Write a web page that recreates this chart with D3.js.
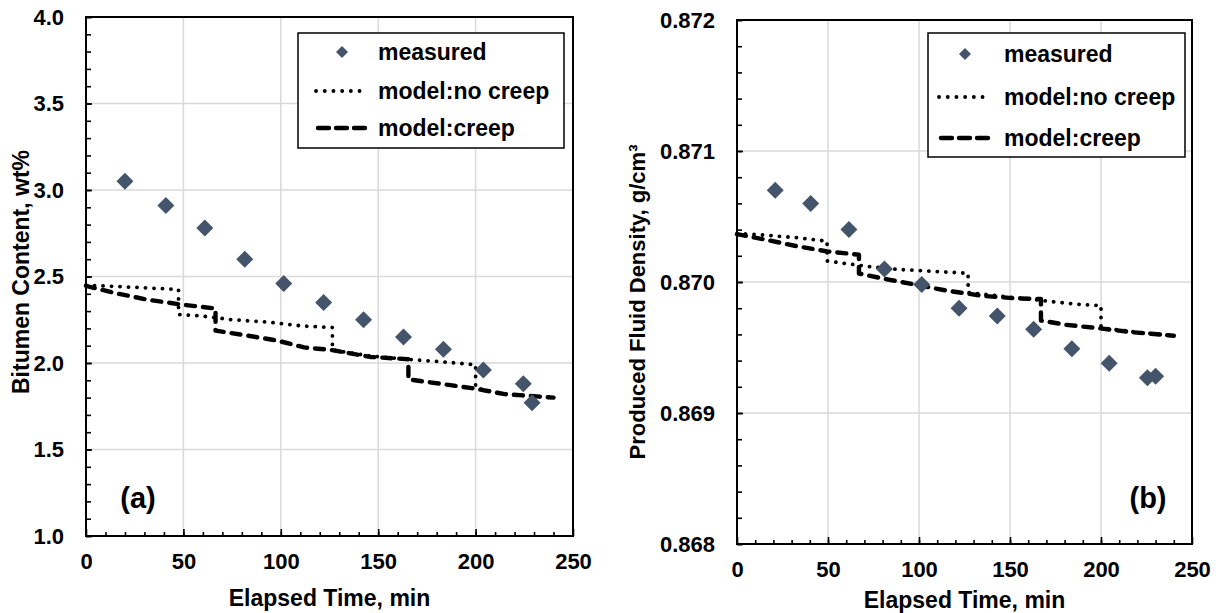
<!DOCTYPE html>
<html>
<head>
<meta charset="utf-8">
<script src="https://cdn.jsdelivr.net/npm/d3@7/dist/d3.min.js"></script>
<style>
  html, body { margin: 0; padding: 0; background: #fff; }
  svg { display: block; }
  text { font-family: "Liberation Sans", Arial, sans-serif; font-weight: bold; fill: #000; }
</style>
</head>
<body>
<svg id="chart" width="1225" height="613"></svg>
<script>
// ---- Panel (a): bitumen content ----
const timeA = [20, 41, 61, 81.5, 101.5, 122, 142.5, 163, 183.5, 204, 224.5, 229];
const bitumenMeasured = [3.05, 2.91, 2.78, 2.60, 2.46, 2.35, 2.25, 2.15, 2.08, 1.96, 1.88, 1.77];

const noCreepTimeA = [0, 20, 47.5, 47.5, 58, 66, 75, 83, 92, 100, 112, 126.5, 126.5, 146, 166, 185, 200, 200, 215, 240];
const noCreepA     = [2.45, 2.44, 2.425, 2.28, 2.273, 2.263, 2.25, 2.244, 2.238, 2.228, 2.213, 2.205, 2.075, 2.04, 2.02, 2.005, 1.99, 1.855, 1.82, 1.80];

const creepTimeA = [0, 15, 32, 49, 66.5, 66.5, 82, 98, 112, 126, 146, 165.5, 165.5, 182, 198, 215, 240];
const creepA     = [2.446, 2.404, 2.365, 2.338, 2.315, 2.187, 2.16, 2.13, 2.09, 2.075, 2.035, 2.022, 1.905, 1.88, 1.855, 1.82, 1.80];

// ---- Panel (b): produced fluid density ----
const timeB = [21, 40.5, 61.5, 81, 101.5, 122, 143, 163, 184, 204.5, 225.5, 230];
const densityMeasured = [0.87070, 0.87060, 0.87040, 0.87010, 0.86998, 0.86980, 0.86974, 0.86964, 0.86949, 0.86938, 0.86927, 0.86928];

const noCreepTimeB = [0, 15, 33, 49.5, 49.5, 58.5, 73, 88, 106, 122.5, 127, 127, 146, 167, 185, 200, 200, 220, 240];
const noCreepB     = [0.87037, 0.870358, 0.870338, 0.870312, 0.870161, 0.870143, 0.870117, 0.870096, 0.870083, 0.87007, 0.870066, 0.86992, 0.86989, 0.86986, 0.869832, 0.86982, 0.86965, 0.869616, 0.86959];

const creepTimeB = [0, 15, 33, 49.5, 67, 67, 79, 97, 115, 135, 153.5, 167, 167, 181, 199, 217.5, 240];
const creepB     = [0.870365, 0.870325, 0.870273, 0.870234, 0.870208, 0.870065, 0.87003, 0.869982, 0.869935, 0.869894, 0.869875, 0.86987, 0.869706, 0.869673, 0.869647, 0.869616, 0.86959];

// ---- Axis ticks and labels ----
const xTicks = [0, 50, 100, 150, 200, 250];
const yTicksA = [1.0, 1.5, 2.0, 2.5, 3.0, 3.5, 4.0];
const yTicksB = [0.868, 0.869, 0.870, 0.871, 0.872];
const legendLabels = ["measured", "model:no creep", "model:creep"];

const svg = d3.select("#chart");
const markerColor = "#44546a";

function diamondPath(r) {
  return `M0,${-r}L${r},0L0,${r}L${-r},0Z`;
}

function drawPanel(cfg) {
  const g = svg.append("g");
  const x = d3.scaleLinear().domain([0, 250]).range([cfg.left, cfg.right]);
  const y = d3.scaleLinear().domain(cfg.yDomain).range([cfg.bottom, cfg.top]);

  // grid lines
  g.append("g").selectAll("line.vg").data(xTicks.slice(1, -1)).join("line")
    .attr("x1", d => x(d)).attr("x2", d => x(d))
    .attr("y1", cfg.top).attr("y2", cfg.bottom)
    .attr("stroke", "#d9d9d9").attr("stroke-width", 1.5);
  g.append("g").selectAll("line.hg").data(cfg.yTicks.slice(1, -1)).join("line")
    .attr("x1", cfg.left).attr("x2", cfg.right)
    .attr("y1", d => y(d)).attr("y2", d => y(d))
    .attr("stroke", "#d9d9d9").attr("stroke-width", 1.5);

  // x axis: major and minor ticks pointing inward
  const xAxisMinor = d3.axisBottom(x).tickValues(d3.range(10, 250, 10)).tickSize(-4).tickFormat("");
  const gxm = g.append("g").attr("transform", `translate(0,${cfg.bottom})`).call(xAxisMinor);
  const xAxis = d3.axisBottom(x).tickValues(xTicks).tickSize(-7).tickPadding(17).tickFormat(d3.format("d"));
  const gx = g.append("g").attr("transform", `translate(0,${cfg.bottom})`).call(xAxis);

  // y axis
  const yMinor = d3.range(cfg.yDomain[0], cfg.yDomain[1] + cfg.minorStep / 2, cfg.minorStep);
  const yAxisMinor = d3.axisLeft(y).tickValues(yMinor).tickSize(-5).tickFormat("");
  const gym = g.append("g").attr("transform", `translate(${cfg.left},0)`).call(yAxisMinor);
  const yAxis = d3.axisLeft(y).tickValues(cfg.yTicks).tickSize(-6).tickPadding(22).tickFormat(d3.format(cfg.yFormat));
  const gy = g.append("g").attr("transform", `translate(${cfg.left},0)`).call(yAxis);

  [gxm, gx, gym, gy].forEach(a => {
    a.select(".domain").remove();
    a.selectAll(".tick line").attr("stroke", "#000").attr("stroke-width", 1.6);
    a.selectAll("text").attr("font-size", 22).attr("font-family", "Liberation Sans, Arial, sans-serif").attr("font-weight", "bold").attr("fill", "#000");
  });

  // frame
  g.append("rect")
    .attr("x", cfg.left).attr("y", cfg.top)
    .attr("width", cfg.right - cfg.left).attr("height", cfg.bottom - cfg.top)
    .attr("fill", "none").attr("stroke", "#000").attr("stroke-width", 2);

  // model lines
  const line = d3.line().x(d => x(d[0])).y(d => y(d[1]));
  g.append("path")
    .datum(d3.zip(cfg.noCreepT, cfg.noCreepV))
    .attr("d", line).attr("fill", "none").attr("stroke", "#000")
    .attr("stroke-width", 3.8).attr("stroke-linecap", "round").attr("stroke-linejoin", "round")
    .attr("stroke-dasharray", "0.1 8.4");
  g.append("path")
    .datum(d3.zip(cfg.creepT, cfg.creepV))
    .attr("d", line).attr("fill", "none").attr("stroke", "#000")
    .attr("stroke-width", 4.4).attr("stroke-linecap", "round").attr("stroke-linejoin", "round")
    .attr("stroke-dasharray", "9 8");

  // measured points
  g.append("g").selectAll("path").data(d3.zip(cfg.mT, cfg.mV)).join("path")
    .attr("transform", d => `translate(${x(d[0])},${y(d[1])})`)
    .attr("d", diamondPath(8.5)).attr("fill", markerColor);

  // axis titles
  g.append("text")
    .attr("x", (cfg.left + cfg.right) / 2).attr("y", cfg.xTitleY)
    .attr("text-anchor", "middle").attr("font-size", 23)
    .text("Elapsed Time, min");
  g.append("text")
    .attr("transform", `translate(${cfg.yTitleX},${cfg.yTitleCY}) rotate(-90)`)
    .attr("text-anchor", "middle").attr("font-size", cfg.yTitleSize)
    .text(cfg.yTitle);

  // panel tag
  g.append("text")
    .attr("x", cfg.tagX).attr("y", cfg.tagY)
    .attr("text-anchor", "middle").attr("font-size", 29)
    .text(cfg.tag);

  // legend
  const L = cfg.legend;
  const lg = g.append("g");
  lg.append("rect").attr("x", L.x).attr("y", L.y).attr("width", L.w).attr("height", L.h)
    .attr("fill", "#fff").attr("stroke", "#000").attr("stroke-width", 1.5);
  const rows = L.rows;
  lg.append("path").attr("transform", `translate(${L.symX},${rows[0]})`)
    .attr("d", diamondPath(6)).attr("fill", markerColor);
  lg.append("line").attr("x1", L.symX - 26).attr("x2", L.symX + 26)
    .attr("y1", rows[1]).attr("y2", rows[1])
    .attr("stroke", "#000").attr("stroke-width", 3.8).attr("stroke-linecap", "round")
    .attr("stroke-dasharray", "0.1 8.6");
  lg.append("line").attr("x1", L.symX - 24).attr("x2", L.symX + 24)
    .attr("y1", rows[2]).attr("y2", rows[2])
    .attr("stroke", "#000").attr("stroke-width", 4.4).attr("stroke-linecap", "round")
    .attr("stroke-dasharray", "11 7");
  lg.selectAll("text").data(legendLabels).join("text")
    .attr("x", L.textX).attr("y", (d, i) => rows[i]).attr("dy", "0.35em")
    .attr("font-size", 23).text(d => d);
}

drawPanel({
  left: 86, right: 573, top: 17, bottom: 536,
  yDomain: [1, 4], yTicks: yTicksA, minorStep: 0.1, yFormat: ".1f",
  mT: timeA, mV: bitumenMeasured,
  noCreepT: noCreepTimeA, noCreepV: noCreepA,
  creepT: creepTimeA, creepV: creepA,
  xTitleY: 606, yTitleX: 29, yTitleCY: 272, yTitleSize: 23,
  yTitle: "Bitumen Content, wt%",
  tag: "(a)", tagX: 138, tagY: 508,
  legend: { x: 298, y: 33, w: 266, h: 115, rows: [52, 91, 128], symX: 342, textX: 378 }
});

drawPanel({
  left: 737, right: 1192, top: 20, bottom: 544,
  yDomain: [0.868, 0.872], yTicks: yTicksB, minorStep: 0.0002, yFormat: ".3f",
  mT: timeB, mV: densityMeasured,
  noCreepT: noCreepTimeB, noCreepV: noCreepB,
  creepT: creepTimeB, creepV: creepB,
  xTitleY: 608, yTitleX: 645, yTitleCY: 302, yTitleSize: 22,
  yTitle: "Produced Fluid Density, g/cm³",
  tag: "(b)", tagX: 1148, tagY: 508,
  legend: { x: 928, y: 33, w: 257, h: 124, rows: [54, 97, 138], symX: 965, textX: 1004 }
});
</script>
</body>
</html>
